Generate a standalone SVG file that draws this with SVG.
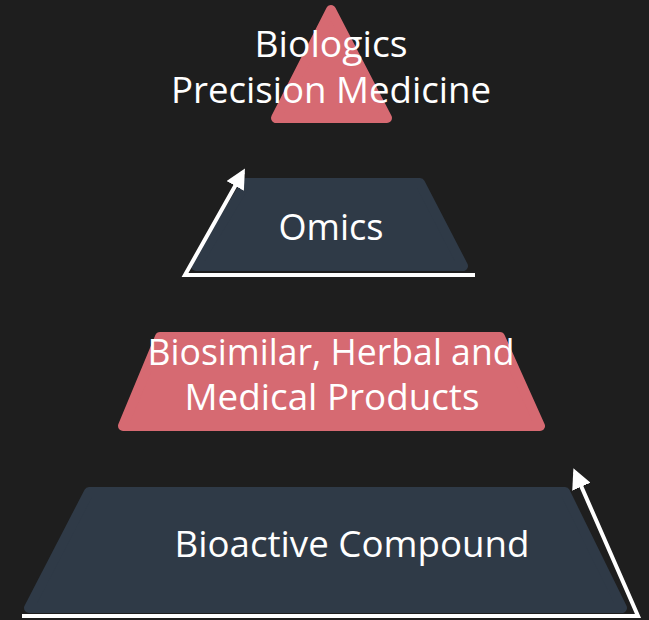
<svg xmlns="http://www.w3.org/2000/svg" width="649" height="620" viewBox="0 0 649 620">
<defs>
<style>
.lbl{font-family:"Open Sans","Noto Sans","Liberation Sans",sans-serif;font-size:36px;fill:#ffffff;text-anchor:middle}
.pink{fill:#d66a72;stroke:#d66a72;stroke-width:10;stroke-linejoin:round}
.dark{fill:#2f3a47;stroke:#2f3a47;stroke-width:10;stroke-linejoin:round}
.con{stroke:#ffffff;stroke-width:4;fill:none}
</style>
<marker id="ah" viewBox="0 0 10 10" refX="8" refY="5" markerWidth="5" markerHeight="5" orient="auto" markerUnits="strokeWidth">
<path d="M0,0 L10,5 L0,10 z" fill="#ffffff"/>
</marker>
</defs>
<rect width="649" height="620" fill="#1e1e1e"/>
<g id="top">
<polygon class="pink" points="331,10 276,118 387,118"/>
<text class="lbl" x="331" y="57" textLength="153" lengthAdjust="spacingAndGlyphs">Biologics</text>
<text class="lbl" x="331" y="103" textLength="320" lengthAdjust="spacingAndGlyphs">Precision Medicine</text>
</g>
<g id="omics">
<polygon class="dark" points="246,183 420,183 463,266 196,266"/>
<text class="lbl" x="331" y="240" textLength="105" lengthAdjust="spacingAndGlyphs">Omics</text>
</g>
<g id="biosimilar">
<polygon class="pink" points="160,337 500,337 540,426 123,426"/>
<text class="lbl" x="331" y="365" textLength="367" lengthAdjust="spacingAndGlyphs">Biosimilar, Herbal and</text>
<text class="lbl" x="332" y="410" textLength="295" lengthAdjust="spacingAndGlyphs">Medical Products</text>
</g>
<g id="bioactive">
<polygon class="dark" points="89,492 565,492 622,608 29,608"/>
<text class="lbl" x="352" y="557" textLength="355" lengthAdjust="spacingAndGlyphs">Bioactive Compound</text>
</g>
<g id="connectors">
<polyline class="con" points="475,275 185,275 243,172" marker-end="url(#ah)"/>
<polyline class="con" points="22,616 638,616 575,472" marker-end="url(#ah)"/>
</g>
</svg>
